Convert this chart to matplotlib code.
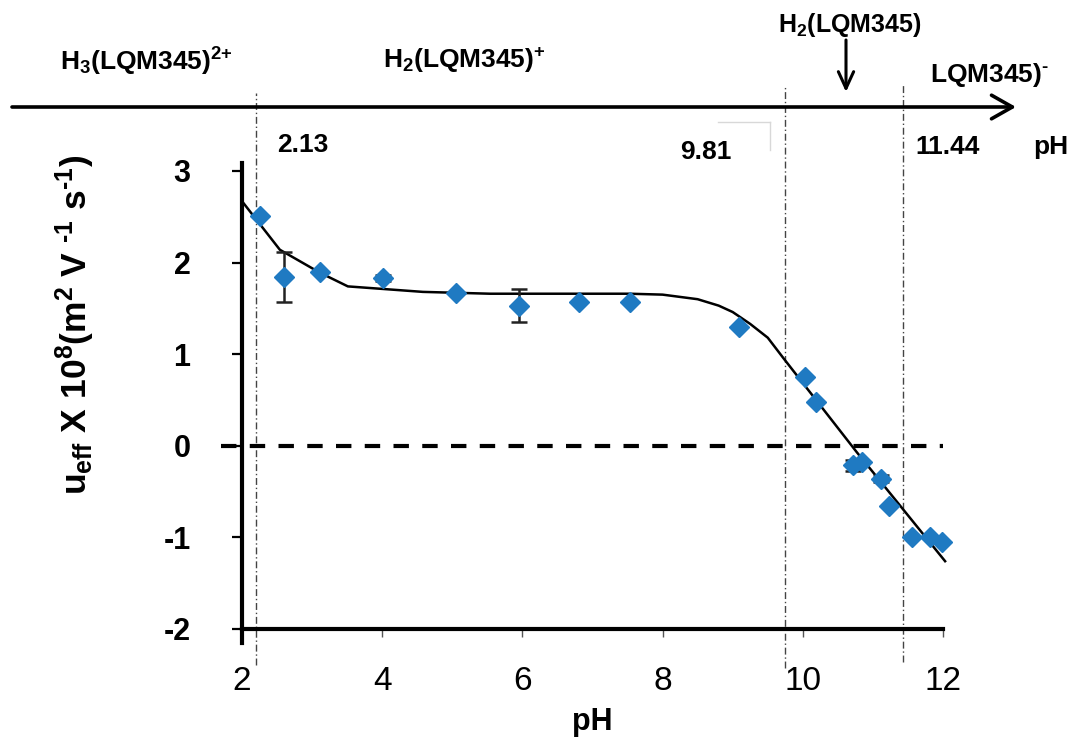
import matplotlib
matplotlib.use('Agg')
import matplotlib.pyplot as plt

plt.rcParams['font.family'] = ['Liberation Sans', 'DejaVu Sans']
plt.rcParams['mathtext.fontset'] = 'custom'
plt.rcParams['mathtext.rm'] = 'Liberation Sans'
plt.rcParams['mathtext.bf'] = 'Liberation Sans:bold'
plt.rcParams['mathtext.it'] = 'Liberation Sans:italic'
plt.rcParams['mathtext.default'] = 'bf'
plt.rcParams['axes.unicode_minus'] = False

# ---- data ----
ph = [2.26, 2.60, 3.11, 4.01, 5.05, 5.95, 6.81, 7.53, 9.09, 10.03, 10.19,
      10.72, 10.84, 11.12, 11.23, 11.56, 11.81, 11.99]
u_eff = [2.51, 1.84, 1.90, 1.83, 1.67, 1.53, 1.57, 1.57, 1.30, 0.75, 0.48,
         -0.21, -0.18, -0.36, -0.66, -1.00, -1.00, -1.05]
u_err = [0, 0.27, 0, 0.03, 0, 0.18, 0, 0, 0, 0, 0,
         0.06, 0, 0.04, 0, 0, 0, 0]
fit_ph = [2.0, 2.54, 3.11, 3.51, 4.58, 5.54, 7.53, 8.0, 8.2, 8.5, 8.8, 9.0,
          9.25, 9.5, 9.72, 10.77, 12.03]
fit_u = [2.67, 2.14, 1.89, 1.74, 1.68, 1.66, 1.66, 1.65, 1.63, 1.60, 1.53,
         1.46, 1.33, 1.18, 0.96, -0.07, -1.26]
pka_labels = ['2.13', '9.81', '11.44']
pka_lines = [2.20, 9.75, 11.43]
xticks = [2, 4, 6, 8, 10, 12]
yticks = [-2, -1, 0, 1, 2, 3]
HY = '\u2010'
species = [r'H$_{3}$(LQM345)$^{2{+}}$', r'H$_{2}$(LQM345)$^{+}$',
           r'H$_{2}$(LQM345)', 'LQM345)$^{' + HY + '}$']

W, H = 1075, 740
fig = plt.figure(figsize=(W / 100, H / 100), dpi=100)
fig.patch.set_facecolor('white')


def fx(px):
    return px / W


def fy(py):
    return 1 - py / H


ax = fig.add_axes([fx(242), fy(643), (943 - 242) / W, (643 - 163) / H])
ax.set_xlim(2, 12)
ax.set_ylim(-2.153, 3.087)

for s in ['top', 'right']:
    ax.spines[s].set_visible(False)
ax.spines['left'].set_linewidth(3)
ax.spines['bottom'].set_linewidth(3)
ax.spines['bottom'].set_position(('data', -2))

ax.set_xticks(xticks)
ax.set_yticks(yticks)
ax.tick_params(axis='y', direction='out', length=7, width=1.6, pad=30,
               labelsize=22)
ax.tick_params(axis='x', direction='out', length=6, width=1.0, color='#555555',
               pad=21, labelsize=24)
for lab in ax.get_yticklabels():
    lab.set_fontweight('bold')

# zero dashed line
ax.plot([1.7, 12.0], [0, 0], color='black', lw=3, linestyle=(0, (3.7, 3.2)),
        clip_on=False, zorder=2)

# pKa vertical dash-dot lines
tops = [3.85, 3.94, 3.94]
bots = [-2.39, -2.43, -2.36]
for xv, t, b in zip(pka_lines, tops, bots):
    ax.plot([xv, xv], [b, t], color='#444444', lw=1.0,
            linestyle=(0, (5, 2, 1, 2)), clip_on=False, zorder=1)

# fit curve
ax.plot(fit_ph, fit_u, color='black', lw=1.8, clip_on=False, zorder=3)

# data with error bars
ax.errorbar(ph, u_eff, yerr=u_err, fmt='none', ecolor='#222222', elinewidth=1.8,
            capsize=6, capthick=1.8, zorder=4)
ax.plot(ph, u_eff, linestyle='none', marker='D', markersize=10,
        color='#1f7ac2', markeredgecolor='#1f7ac2', zorder=5, clip_on=False)

# axis labels
fig.text(fx(75), fy(325),
         'u$_{eff}$ X 10$^{8}$(m$^{2}$ V $^{' + HY + '1}$ s$^{' + HY + '1}$)',
         rotation=90, ha='center', va='center', fontsize=25.5, fontweight='bold')
fig.text(fx(592), fy(722), 'pH', ha='center', va='center', fontsize=22,
         fontweight='bold')

# top pH scale arrow
ax.annotate('', xy=(1016, H - 107), xytext=(12, H - 107),
            xycoords='figure pixels', textcoords='figure pixels',
            arrowprops=dict(arrowstyle='->,head_length=1.5,head_width=0.85',
                            lw=2.6, color='black', shrinkA=0, shrinkB=0))
# down arrow
ax.annotate('', xy=(846, H - 92), xytext=(846, H - 40),
            xycoords='figure pixels', textcoords='figure pixels',
            arrowprops=dict(arrowstyle='->,head_length=1.2,head_width=0.55',
                            lw=2.2, color='black', shrinkA=0, shrinkB=0))

# species labels
fig.text(fx(60), fy(62), species[0], ha='left', va='center', fontsize=19,
         fontweight='bold')
fig.text(fx(383), fy(60), species[1], ha='left', va='center', fontsize=19,
         fontweight='bold')
fig.text(fx(778), fy(25), species[2], ha='left', va='center', fontsize=18,
         fontweight='bold')
fig.text(fx(930), fy(75), species[3], ha='left', va='center', fontsize=19,
         fontweight='bold')

# pKa value labels
fig.text(fx(277), fy(145), pka_labels[0], ha='left', va='center', fontsize=19,
         fontweight='bold')
fig.text(fx(680), fy(152), pka_labels[1], ha='left', va='center', fontsize=19,
         fontweight='bold')
fig.text(fx(915), fy(147), pka_labels[2], ha='left', va='center', fontsize=19,
         fontweight='bold')
fig.text(fx(1033), fy(147), 'pH', ha='left', va='center', fontsize=19,
         fontweight='bold')

# faint scan artefacts
fig.add_artist(plt.Line2D([fx(718), fx(770)], [fy(122), fy(122)],
                          color='#d8d8d8', lw=1))
fig.add_artist(plt.Line2D([fx(770), fx(770)], [fy(122), fy(150)],
                          color='#d8d8d8', lw=1))

fig.savefig('out.png', dpi=100, facecolor='white')
